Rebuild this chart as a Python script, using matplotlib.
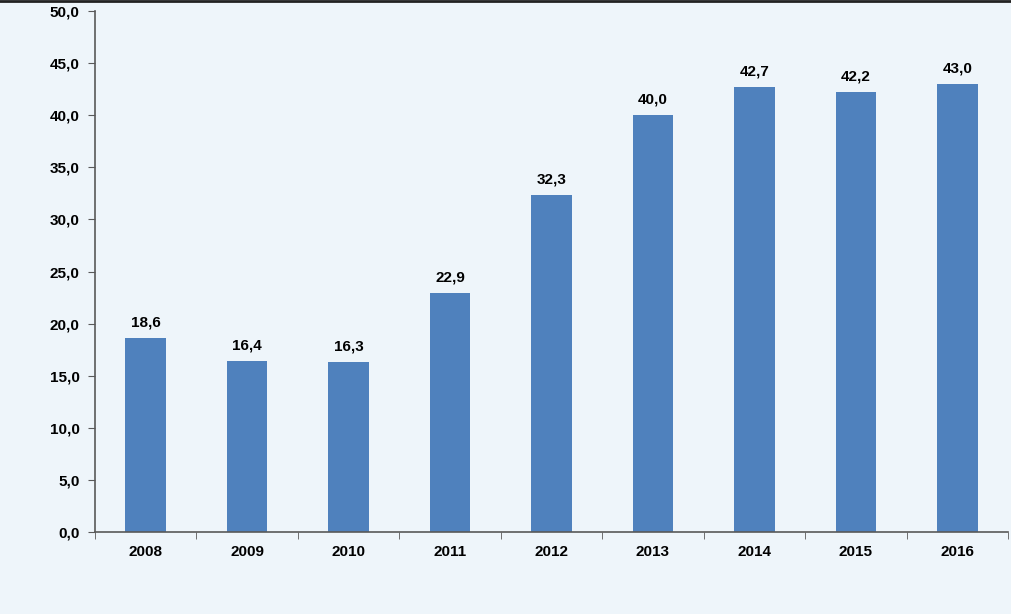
import matplotlib
matplotlib.use("Agg")
import matplotlib.pyplot as plt
from matplotlib.lines import Line2D

years = ["2008", "2009", "2010", "2011", "2012", "2013", "2014", "2015", "2016"]
values = [18.6, 16.4, 16.3, 22.9, 32.3, 40.0, 42.7, 42.2, 43.0]
yticks = [0, 5, 10, 15, 20, 25, 30, 35, 40, 45, 50]

bg = "#EEF5FA"
bar_color = "#4F81BD"
axis_color = "#595959"
plt.rcParams['font.family'] = ['Liberation Sans', 'DejaVu Sans']

fig = plt.figure(figsize=(10.12, 6.14), dpi=100, facecolor=bg)
ax = fig.add_axes([95/1012, 1-532/614, (1008-95)/1012, (532-11)/614])
ax.set_facecolor(bg)

x = list(range(len(years)))
ax.bar(x, values, width=0.4, color=bar_color, zorder=2)
for xi, v in zip(x, values):
    ax.text(xi, v + 0.85, f"{v:.1f}".replace(".", ","), ha="center", va="bottom",
            fontsize=11, fontweight="bold", color="black")

ax.set_xlim(-0.5, len(years) - 0.5)
ax.set_ylim(0, 50)
ax.set_yticks(yticks)
ax.set_yticklabels([f"{t:.1f}".replace(".", ",") for t in yticks],
                   fontsize=11, fontweight="bold")
ax.set_xticks(x)
ax.set_xticklabels(years, fontsize=11, fontweight="bold")
ax.tick_params(axis="x", length=0, pad=9)
ax.set_xticks([i - 0.5 for i in range(len(years) + 1)], minor=True)
ax.tick_params(axis="x", which="minor", length=5, direction="out", color=axis_color)
ax.tick_params(axis="y", length=5, direction="out", color=axis_color, pad=6)

for s in ["top", "right"]:
    ax.spines[s].set_visible(False)
for s in ["left", "bottom"]:
    ax.spines[s].set_color(axis_color)
    ax.spines[s].set_linewidth(1.2)

fig.add_artist(Line2D([0, 1], [0.999, 0.999], transform=fig.transFigure,
                      color="#222222", linewidth=2))

fig.savefig("out.png", dpi=100, facecolor=bg)
